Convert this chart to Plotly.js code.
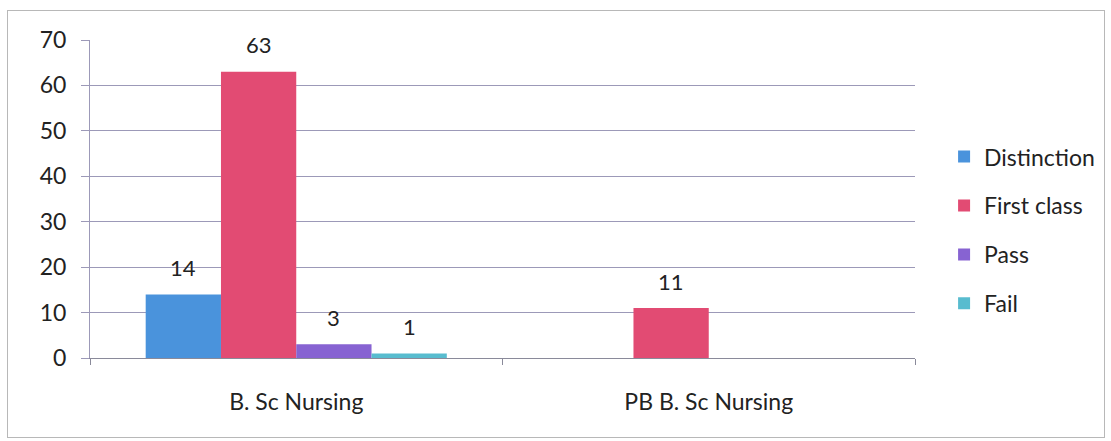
<!DOCTYPE html>
<html>
<head>
<meta charset="utf-8">
<script src="https://cdn.plot.ly/plotly-3.0.1.min.js"></script>
<style>
  html, body { margin: 0; padding: 0; background: #fff; }
  #wrap { position: relative; width: 1111px; height: 441px; }
  #chart { position: absolute; left: 0; top: 0; width: 1111px; height: 441px; }
  #frame { position: absolute; left: 7px; top: 10px; width: 1096px; height: 426px; border: 1px solid #b8b8b8; pointer-events: none; }
</style>
</head>
<body>
<div id="wrap">
  <div id="chart"></div>
  <div id="frame"></div>
</div>
<script>
const categories = ["B. Sc Nursing", "PB B. Sc Nursing"];
const seriesNames = ["Distinction", "First class", "Pass", "Fail"];
const distinction = [14, null];
const firstClass = [63, 11];
const pass = [3, null];
const fail = [1, null];
const yTicks = [0, 10, 20, 30, 40, 50, 60, 70];

const seriesValues = [distinction, firstClass, pass, fail];
const colors = ["#4a93dc", "#e24b73", "#8763d2", "#58bccf"];
const bargap = 0.27;
const nSeries = seriesValues.length;
const FONT = "Lato, 'Noto Sans', sans-serif";

const traces = seriesValues.map((vals, j) => ({
  type: "bar",
  name: seriesNames[j],
  x: categories,
  y: vals,
  marker: { color: colors[j] },
  legendgroup: "g" + j,
  hoverinfo: "y"
}));

const annotations = [];
seriesValues.forEach((vals, j) => {
  vals.forEach((v, i) => {
    if (v === null || v === undefined) return;
    const w = (1 - bargap) / nSeries;
    const xpos = i - (1 - bargap) / 2 + w * (j + 0.5);
    annotations.push({
      x: xpos, y: v, xref: "x", yref: "y",
      text: String(v), showarrow: false,
      yanchor: "middle", yshift: 27,
      font: { family: FONT, size: 22, color: "#222" }
    });
  });
});

const layout = {
  width: 1111, height: 441,
  margin: { l: 90, r: 195, t: 40, b: 83 },
  paper_bgcolor: "rgba(0,0,0,0)",
  plot_bgcolor: "#fff",
  barmode: "group",
  bargap: bargap,
  bargroupgap: 0,
  font: { family: FONT, size: 22, color: "#222" },
  xaxis: {
    type: "category",
    range: [-0.5, 1.5],
    tickson: "boundaries",
    ticks: "outside", ticklen: 6, tickcolor: "#8a8a9a",
    showline: true, linecolor: "#8a8a9a", linewidth: 1,
    showgrid: false, zeroline: false,
    ticklabelstandoff: 23,
    tickfont: { size: 23, color: "#222" }
  },
  yaxis: {
    range: [0, 70],
    tickvals: yTicks,
    ticks: "outside", ticklen: 8, tickcolor: "#9c99b8",
    showline: true, linecolor: "#9c99b8", linewidth: 1,
    showgrid: true, gridcolor: "#9c99b8", gridwidth: 1,
    zeroline: false,
    ticklabelstandoff: 10,
    tickfont: { size: 23, color: "#222" }
  },
  showlegend: true,
  legend: {
    x: 1.034, xanchor: "left", y: 0.402, yanchor: "middle",
    font: { size: 23, color: "#222" },
    tracegroupgap: 16,
    itemwidth: 30,
    bgcolor: "rgba(0,0,0,0)"
  },
  annotations: annotations
};

Plotly.newPlot("chart", traces, layout, { displayModeBar: false, staticPlot: true });
</script>
</body>
</html>
